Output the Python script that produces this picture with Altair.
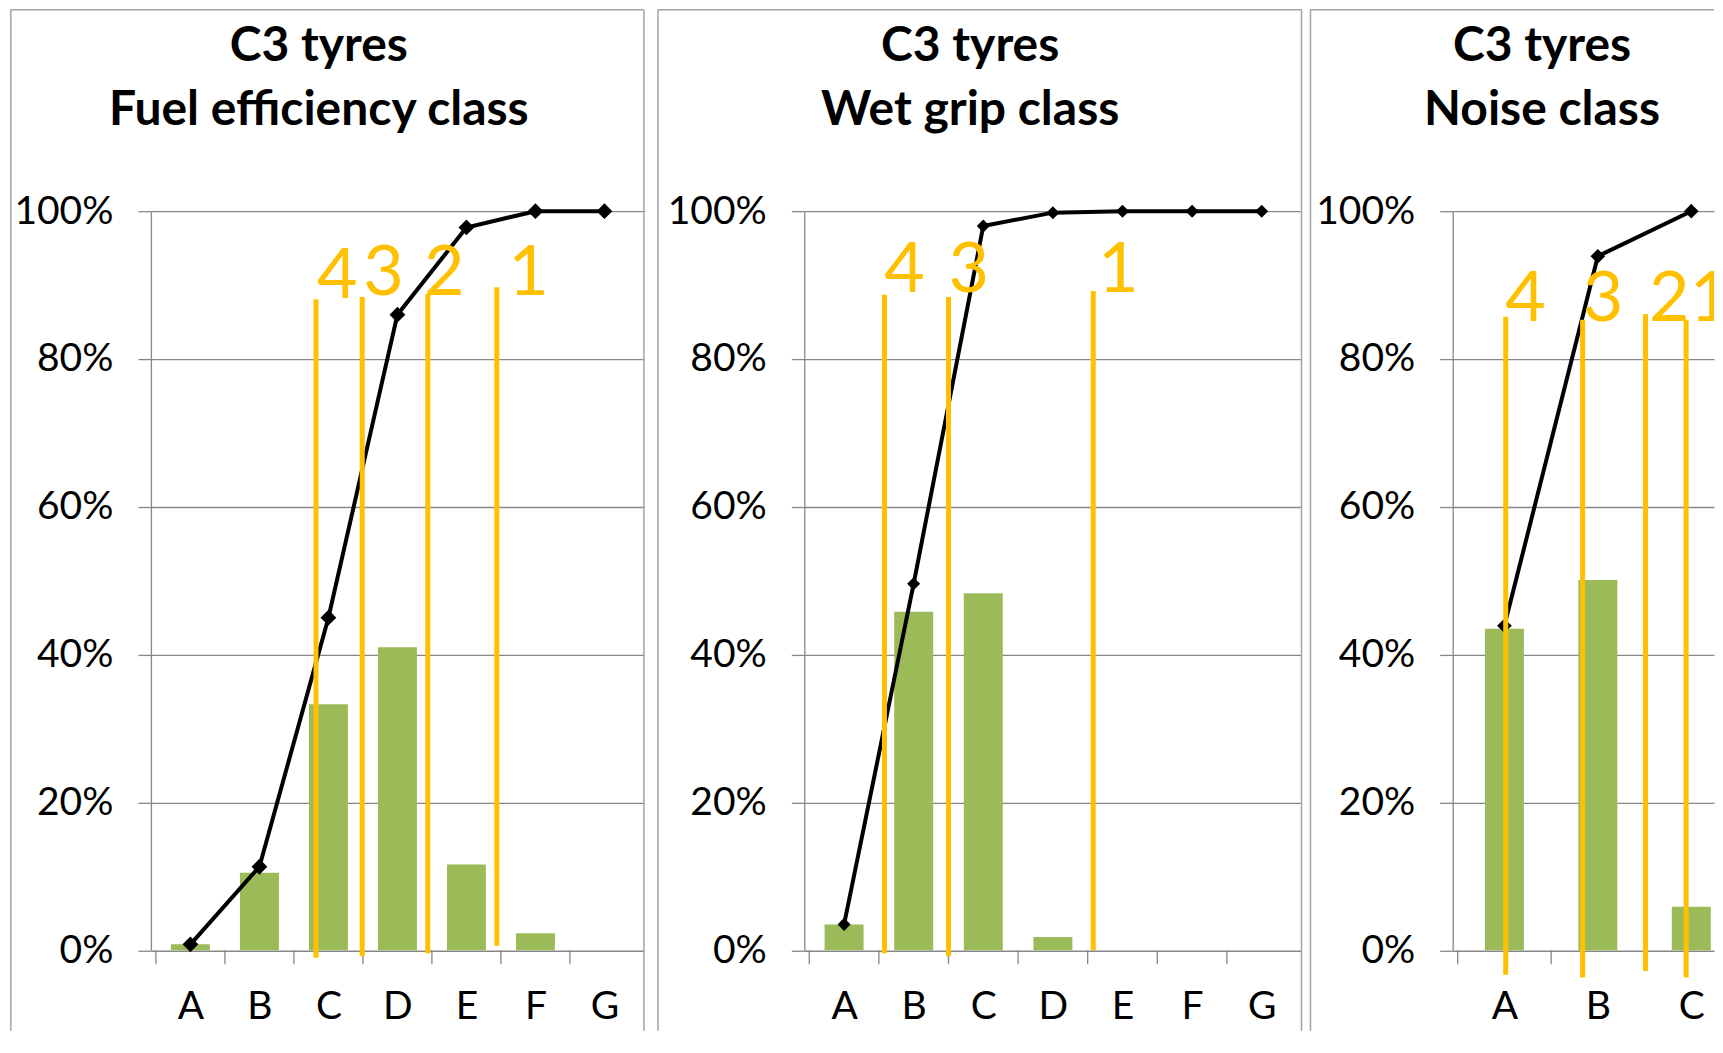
import json
import altair as alt
import pandas as pd

FONT = "Lato"
GREEN = "#9BBB59"
GOLD = "#FFC000"
GRID = "#878787"
BORDER = "#A3A3A3"
PLOT_H = 739.5

# ---------------- data ----------------
# Fuel efficiency class
fe_classes = ["A", "B", "C", "D", "E", "F", "G"]
fe_share = [0.8, 10.5, 33.3, 41.0, 11.6, 2.3, 0.0]
fe_cumul = [0.8, 11.3, 45.0, 86.0, 97.8, 100.0, 100.0]
fe_limit_pos = [2.32, 2.99, 3.94, 4.94]
fe_limit_top = [88.1, 88.4, 88.8, 89.7]
fe_limit_bottom = [-1.0, -0.8, -0.4, 0.6]
fe_label_text = ["4", "3", "2", "1"]
fe_label_pos = [2.63, 3.30, 4.18, 5.40]
fe_label_y = [88.3, 88.6, 88.6, 88.6]

# Wet grip class
wg_classes = ["A", "B", "C", "D", "E", "F", "G"]
wg_share = [3.5, 45.8, 48.3, 1.8, 0.0, 0.0, 0.0]
wg_cumul = [3.5, 49.6, 98.0, 99.8, 100.0, 100.0, 100.0]
wg_limit_pos = [1.08, 2.00, 4.08]
wg_limit_top = [88.7, 88.4, 89.2]
wg_limit_bottom = [-0.4, -0.8, 0.0]
wg_label_text = ["4", "3", "1"]
wg_label_pos = [1.37, 2.29, 4.44]
wg_label_y = [89.0, 89.0, 89.0]

# Noise class
ns_classes = ["A", "B", "C"]
ns_share = [43.5, 50.1, 5.9]
ns_cumul = [43.9, 93.9, 100.0]
ns_limit_pos = [0.514, 1.337, 2.010, 2.445]
ns_limit_top = [85.7, 85.3, 86.1, 85.3]
ns_limit_bottom = [-3.3, -3.7, -2.8, -3.7]
ns_label_text = ["4", "3", "2", "1"]
ns_label_pos = [0.727, 1.556, 2.265, 2.70]
ns_label_y = [85.2, 85.2, 85.2, 85.2]

titles = [
    "C3 tyres\nFuel efficiency class",
    "C3 tyres\nWet grip class",
    "C3 tyres\nNoise class",
]


def panel(title, classes, share, cumul, lim_pos, lim_top, lim_bot,
          lab_text, lab_pos, lab_y, width, x_max, title_x, border_left,
          right_border, marker_size, clip_labels=False):
    n = len(classes)
    h = PLOT_H
    centers = [i + 0.5 for i in range(n)]
    df = pd.DataFrame({"cls": classes, "pos": centers,
                       "share": share, "cumul": cumul})
    lim = pd.DataFrame({"pos": lim_pos, "top": lim_top, "bot": lim_bot})
    lab = pd.DataFrame({"pos": lab_pos, "y": lab_y, "t": lab_text})
    ticks = pd.DataFrame({"pos": [float(i) for i in range(n) if i < x_max]})
    one = pd.DataFrame({"title": [title]})

    xs = alt.Scale(domain=[0, x_max], nice=False, zero=False)
    ys = alt.Scale(domain=[0, 100], nice=False)
    xaxis = alt.Axis(values=centers,
                     labelExpr=json.dumps(classes) + "[floor(datum.value)]",
                     domain=False, ticks=False, grid=False,
                     labelFont=FONT, labelFontSize=39, labelColor="black",
                     labelPadding=56, labelBaseline="middle",
                     labelFlush=False, labelOverlap=False, title=None)
    yaxis = alt.Axis(values=[0, 20, 40, 60, 80, 100],
                     labelExpr="datum.value + '%'",
                     domainColor=GRID, domainWidth=1.3,
                     tickColor=GRID, tickSize=13, tickWidth=1.3,
                     gridColor=GRID, gridWidth=1.3,
                     labelFont=FONT, labelFontSize=39, labelColor="black",
                     labelPadding=25, title=None)

    def X(field):
        return alt.X(field, scale=xs, axis=xaxis, title=None)

    def Y(field):
        return alt.Y(field, scale=ys, axis=yaxis, title=None)

    bars = alt.Chart(df).mark_bar(color=GREEN, size=39).encode(
        x=X("pos:Q"), y=Y("share:Q"))
    line = alt.Chart(df).mark_line(
        color="black", strokeWidth=4,
        point=alt.OverlayMarkDef(shape="diamond", size=marker_size,
                                 color="black", filled=True, opacity=1),
    ).encode(x=X("pos:Q"), y=Y("cumul:Q"))
    xticks = alt.Chart(ticks).mark_rule(color=GRID, strokeWidth=1.3).encode(
        x=X("pos:Q"), y=alt.value(h), y2=alt.value(h + 14))
    limits = alt.Chart(lim).mark_rule(color=GOLD, strokeWidth=5).encode(
        x=X("pos:Q"), y=Y("top:Q"), y2="bot:Q")
    labels = alt.Chart(lab).mark_text(
        font=FONT, fontSize=70, color=GOLD, align="center",
        baseline="alphabetic", clip=clip_labels,
    ).encode(x=X("pos:Q"), y=Y("y:Q"), text="t:N")
    ttl = alt.Chart(one).mark_text(
        font=FONT, fontSize=48, fontWeight="bold", color="black",
        align="center", baseline="alphabetic", lineBreak="\n", lineHeight=64,
    ).encode(x=alt.value(title_x), y=alt.value(-150.5), text="title:N")

    bl = alt.Chart(one).mark_rule(color=BORDER, strokeWidth=1.5).encode(
        x=alt.value(border_left), y=alt.value(-201.5), y2=alt.value(820))
    bt = alt.Chart(one).mark_rule(color=BORDER, strokeWidth=1.5).encode(
        x=alt.value(border_left), x2=alt.value(width), y=alt.value(-201.5))
    layers = [bars, line, xticks, limits, labels, ttl, bl, bt]
    if right_border:
        br = alt.Chart(one).mark_rule(color=BORDER, strokeWidth=1.5).encode(
            x=alt.value(width), y=alt.value(-201.5), y2=alt.value(820))
        layers.append(br)
    return alt.layer(*layers).properties(width=width, height=h)


p1 = panel(titles[0], fe_classes, fe_share, fe_cumul, fe_limit_pos,
           fe_limit_top, fe_limit_bottom, fe_label_text, fe_label_pos,
           fe_label_y, width=493.3, x_max=7, title_x=168,
           border_left=-140.2, right_border=True, marker_size=250)
p2 = panel(titles[1], wg_classes, wg_share, wg_cumul, wg_limit_pos,
           wg_limit_top, wg_limit_bottom, wg_label_text, wg_label_pos,
           wg_label_y, width=497.5, x_max=7, title_x=166,
           border_left=-146.4, right_border=True, marker_size=170)
p3 = panel(titles[2], ns_classes, ns_share, ns_cumul, ns_limit_pos,
           ns_limit_top, ns_limit_bottom, ns_label_text, ns_label_pos,
           ns_label_y, width=261.5, x_max=261.5 / 97.2, title_x=89.4,
           border_left=-142.3, right_border=False, marker_size=215,
           clip_labels=True)

right = alt.hconcat(p2, p3, spacing=150.8, bounds="flush")
chart = alt.hconcat(p1, right, spacing=159.75, bounds="flush").properties(
    padding={"left": 2, "top": 0, "right": 0, "bottom": 0},
    background="white",
).configure_view(stroke=None)

chart.save("out.html", embed_options={"renderer": "svg", "actions": False})
